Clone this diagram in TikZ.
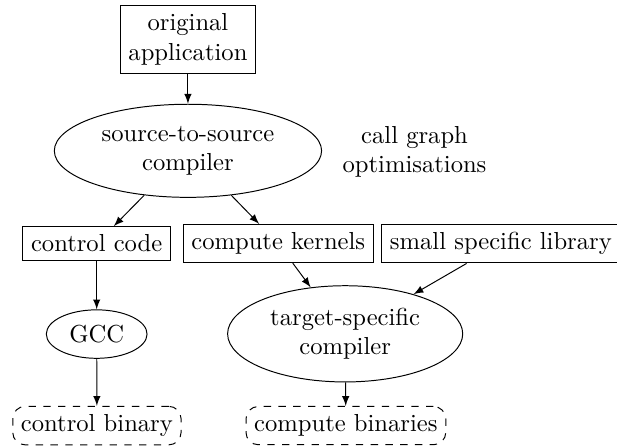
\documentclass[tikz,border=0pt]{standalone}
\usetikzlibrary{shapes.geometric,arrows}
\begin{document}
\begin{tikzpicture}[x=1pt,y=1pt,
  boxnode/.style={draw,rectangle,align=center},
  ellnode/.style={draw,ellipse,align=center},
  binnode/.style={draw,dashed,rounded corners=5pt,rectangle,align=center},
  plainnode/.style={align=center},
  conn/.style={-latex}]
\useasboundingbox (0,0) rectangle (250.8,-180.9);
\node[boxnode] (orig) at (76.4,-16.1) {original\\application};
\node[ellnode] (src) at (76.4,-61.3) {source-to-source\\compiler};
\node[plainnode] (cg) at (168.5,-61.8) {call graph\\optimisations};
\node[boxnode] (ctrl) at (39.3,-99.0) {control code};
\node[boxnode] (kern) at (113.1,-99.0) {compute kernels};
\node[boxnode] (lib) at (203.6,-99.0) {small specific library};
\node[ellnode] (gcc) at (39.3,-135.8) {GCC};
\node[ellnode] (tgt) at (140.3,-135.7) {target-specific\\compiler};
\node[binnode] (cbin) at (39.4,-173.0) {control binary};
\node[binnode] (kbin) at (140.6,-173.0) {compute binaries};
\draw[conn] (orig) -- (src);
\draw[conn] (src) -- (ctrl);
\draw[conn] (src) -- (kern);
\draw[conn] (ctrl) -- (gcc);
\draw[conn] (gcc) -- (cbin);
\draw[conn] (kern) -- (tgt);
\draw[conn] (lib) -- (tgt);
\draw[conn] (tgt) -- (kbin);
\end{tikzpicture}
\end{document}
